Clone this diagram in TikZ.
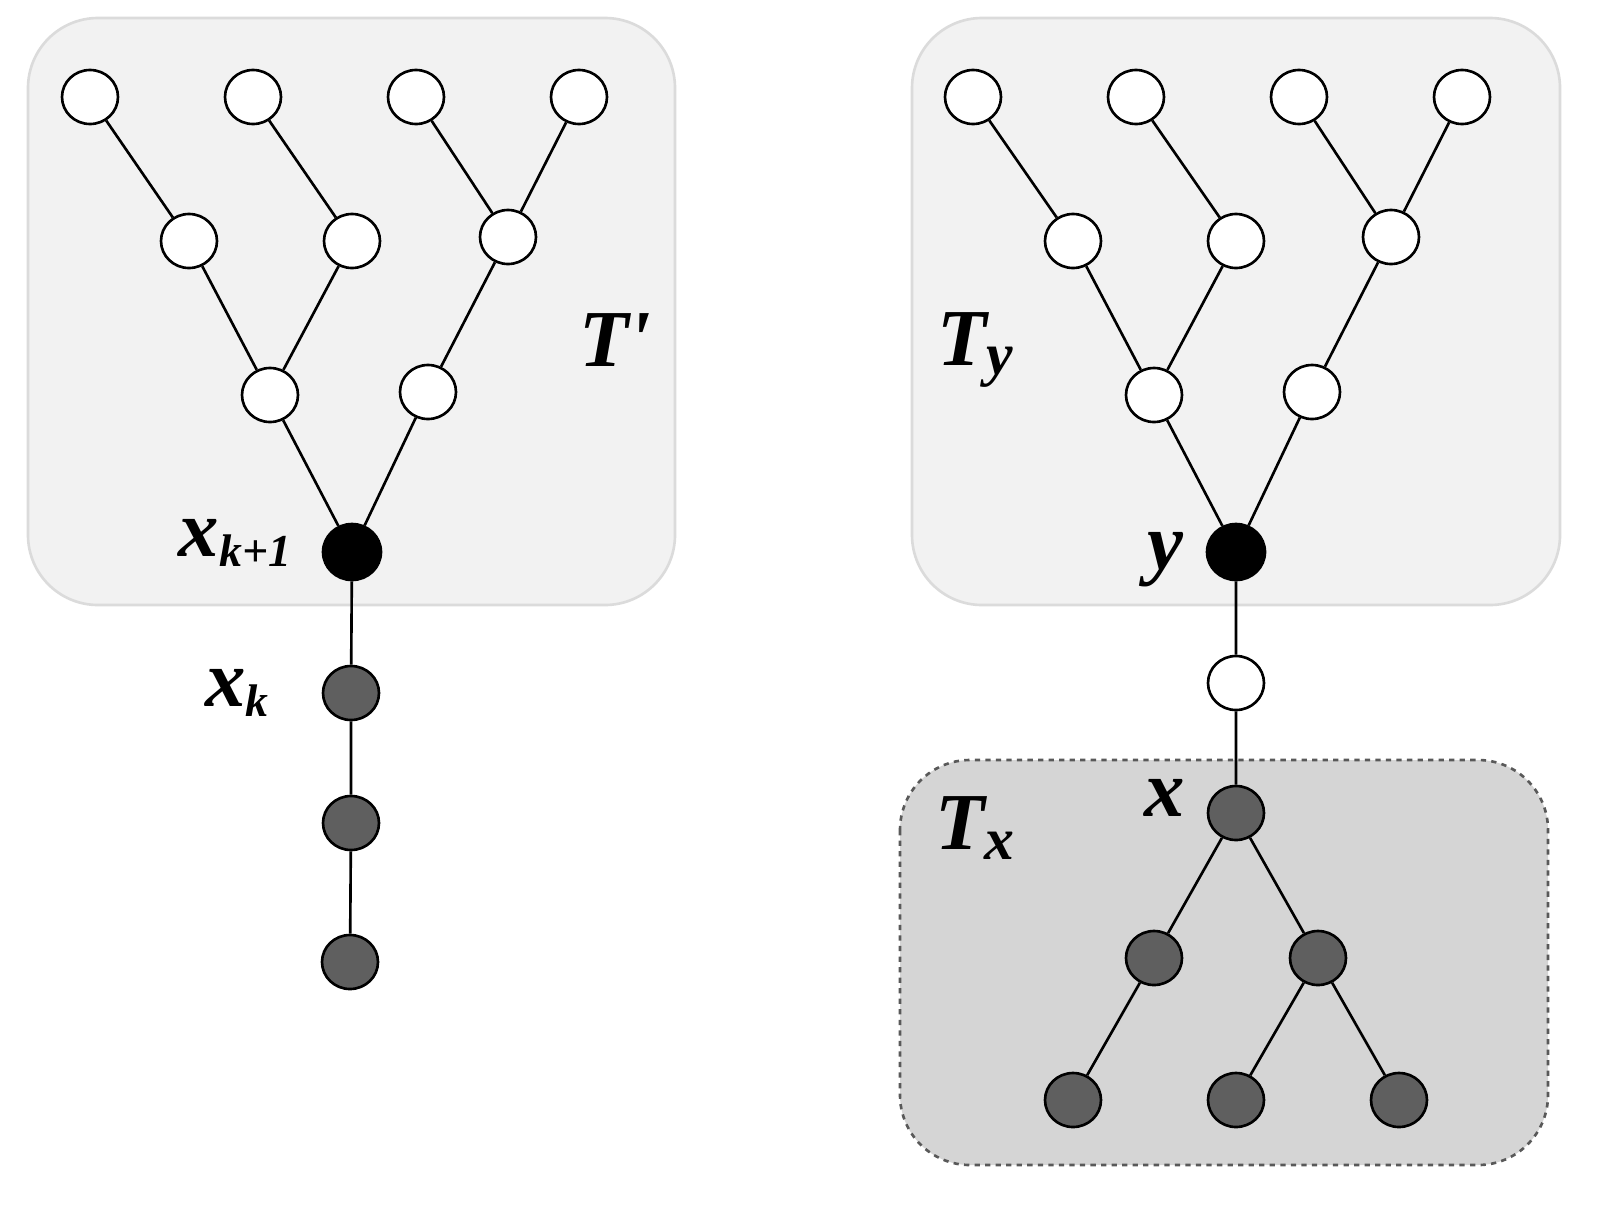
\documentclass[tikz,border=0pt]{standalone}
\usepackage{fontspec}
\setmainfont{Liberation Serif}
\usetikzlibrary{shapes.geometric}
\newcommand{\mysub}[1]{\raisebox{-0.25ex}{\fontsize{26}{26}\selectfont #1}}
\begin{document}
\begin{tikzpicture}[x=0.02cm,y=-0.02cm,
 nd/.style={draw,line width=1.5pt,ellipse,minimum width=56*0.02cm,minimum height=54*0.02cm,inner sep=0pt},
 wn/.style={nd,fill=white},
 gn/.style={nd,fill=gray60},
 bn/.style={nd,fill=black,minimum width=58*0.02cm,minimum height=56*0.02cm},
 lab/.style={font=\bfseries\itshape\fontsize{46}{46}\selectfont},
 edge/.style={line width=1.5pt}]
\definecolor{gray60}{HTML}{5F5F5F}
\definecolor{boxA}{HTML}{F2F2F2}
\definecolor{boxB}{HTML}{D5D5D5}
\useasboundingbox (0,0) rectangle (1598,1214);
\draw[boxA!80!gray,line width=1.5pt,fill=boxA,rounded corners=1.4cm] (28,18) rectangle (675,605);
\draw[boxA!80!gray,line width=1.5pt,fill=boxA,rounded corners=1.4cm] (912,18) rectangle (1560,605);
\draw[gray!70!black,line width=1.5pt,dashed,fill=boxB,rounded corners=1.4cm] (900,760) rectangle (1548,1165);
% left tree
\node[wn] (a1) at (90,97) {}; \node[wn] (a2) at (253,97) {}; \node[wn] (a3) at (416,97) {}; \node[wn] (a4) at (579,97) {};
\node[wn] (b1) at (189,241) {}; \node[wn] (b2) at (352,241) {}; \node[wn] (b3) at (508,237) {};
\node[wn] (c1) at (270,395) {}; \node[wn] (c2) at (428,392) {};
\node[bn] (r) at (352,552) {};
\node[gn] (k1) at (351,693) {}; \node[gn] (k2) at (351,823) {}; \node[gn] (k3) at (350,962) {};
\draw[edge] (a1)--(b1) (a2)--(b2) (a3)--(b3) (a4)--(b3) (b1)--(c1) (b2)--(c1) (b3)--(c2) (c1)--(r) (c2)--(r) (r)--(k1) (k1)--(k2) (k2)--(k3);
\node[lab] (l1) at (235,543) {x\mysub{k+1}};
\node[lab] (l2) at (237,693) {x\mysub{k}};
\node[lab] (l3) at (615,340) {T\textquotesingle};
% right tree
\node[wn] (d1) at (973,97) {}; \node[wn] (d2) at (1136,97) {}; \node[wn] (d3) at (1299,97) {}; \node[wn] (d4) at (1462,97) {};
\node[wn] (e1) at (1073,241) {}; \node[wn] (e2) at (1236,241) {}; \node[wn] (e3) at (1391,237) {};
\node[wn] (f1) at (1154,395) {}; \node[wn] (f2) at (1312,392) {};
\node[bn] (y) at (1236,552) {};
\node[wn] (m) at (1236,683) {};
\node[gn] (x) at (1236,813) {};
\node[gn] (g1) at (1154,958) {}; \node[gn] (g2) at (1318,958) {};
\node[gn] (h1) at (1073,1100) {}; \node[gn] (h2) at (1236,1100) {}; \node[gn] (h3) at (1399,1100) {};
\draw[edge] (d1)--(e1) (d2)--(e2) (d3)--(e3) (d4)--(e3) (e1)--(f1) (e2)--(f1) (e3)--(f2) (f1)--(y) (f2)--(y) (y)--(m) (m)--(x) (x)--(g1) (x)--(g2) (g1)--(h1) (g2)--(h2) (g2)--(h3);
\node[lab] (ty) at (975,350) {T\mysub{\fontsize{34}{34}\selectfont y}};
\node[lab] (ly) at (1165,560) {y};
\node[lab] (lx) at (1165,798) {x};
\node[lab] (tx) at (975,828) {T\mysub{\fontsize{34}{34}\selectfont x}};
\end{tikzpicture}
\end{document}
